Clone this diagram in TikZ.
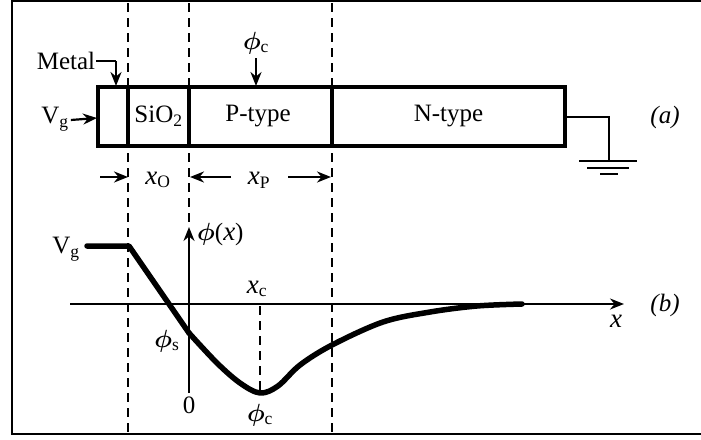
\documentclass[tikz,border=0pt]{standalone}
\usepackage{fontspec}
\setmainfont{Liberation Serif}
\usetikzlibrary{arrows.meta}
\newcommand{\ph}{{\boldmath$\phi$}}
\newcommand{\xv}{{\fontsize{27}{30}\selectfont\itshape x}}
\begin{document}
\begin{tikzpicture}[x=1pt,y=-1pt,
  every node/.style={font=\fontsize{25}{29}\selectfont, inner sep=0pt},
  arr/.style={line width=2.2pt,-{Stealth[length=14pt,width=11pt]}},
  guide/.style={line width=1.4pt,dash pattern=on 9pt off 6pt},
  seg/.style={draw,line width=3.2pt,minimum height=59pt},
  axis/.style={line width=2pt},
  curve/.style={line width=5.5pt,line join=round,line cap=round},
  gnd/.style={line width=2pt}]
\useasboundingbox (0,0) rectangle (701,439);
\draw[line width=1.4pt] (705,1) -- (12,1) -- (12,434) -- (705,434);
% guides
\draw[guide] (128,3) -- (128,433);
\draw[guide] (189,3) -- (189,226);
\draw[guide] (332,3) -- (332,433);
% device segments
\node[seg,minimum width=30pt] (metal) at (113,116.5) {};
\node[seg,minimum width=61pt] (sio) at (158.5,116.5) {SiO\textsubscript{2}};
\node[seg,minimum width=143pt] (ptype) at (260.5,116.5) {\hspace*{-5pt}P-type};
\node[seg,minimum width=233pt] (ntype) at (448.5,116.5) {N-type};
\draw[line width=4.5pt] (98,87) rectangle (565,146);
% labels with arrows
\node (metaltxt) at (66,61) {Metal};
\coordinate (mk) at (116,61);
\draw[line width=2pt] (metaltxt.east) ++(1pt,0) -- (mk);
\draw[arr] (mk) -- (116,86);
\node (vgtop) at (55,119) {V\textsubscript{g}};
\draw[arr] (vgtop.east) ++(2pt,-1pt) -- (97,118);
\node (phictop) at (256,43) {\ph\textsubscript{c}};
\coordinate (phia) at (256,58);
\draw[arr] (phia) -- (256,86);
% ground
\coordinate (g0) at (565,117);
\coordinate (g1) at (609,117);
\coordinate (g2) at (609,161);
\draw[gnd] (g0) -- (g1) -- (g2);
\draw[gnd] (579,161) -- (637,161);
\draw[gnd] (587,168) -- (629,168);
\draw[gnd] (600,174) -- (618,174);
\node (a) at (665,117) {\itshape (a)};
% dimensions
\coordinate (d1) at (100,177);
\draw[arr] (d1) -- (128,177);
\node (xo) at (158,180) {\xv\textsubscript{\upshape O}};
\coordinate (d2) at (231,177);
\draw[arr] (d2) -- (190,177);
\node (xp) at (259,180) {\xv\textsubscript{\upshape P}};
\coordinate (d3) at (288,177);
\draw[arr] (d3) -- (331,177);
% graph
\coordinate (origin) at (189,393);
\draw[axis,-{Stealth[length=14pt,width=11pt]}] (origin) -- (189,227);
\node[anchor=west] (phix) at (197,234) {\ph(\xv)};
\coordinate (xs) at (70,304);
\draw[axis,-{Stealth[length=14pt,width=11pt]}] (xs) -- (624,304);
\node (xl) at (616,321) {\xv};
\node (b) at (665,305) {\itshape (b)};
\node (vgb) at (66,249) {V\textsubscript{g}};
\node (xc) at (257,289) {\xv\textsubscript{\upshape c}};
\node (phis) at (167,341) {\ph\textsubscript{s}};
\node (zero) at (189,405) {0};
\node (phicb) at (260,415) {\ph\textsubscript{c}};
\coordinate (cmin) at (260,393);
\draw[guide] (260,306) -- (cmin);
\draw[curve] (87,246) -- (129,246) -- (189,333);
\draw[curve] plot[smooth,tension=0.55] coordinates {(189,333) (217,363) (240,383) (260,393) (278,386) (300,365) (332,345) (383,322) (430,312) (477,306) (522,304)};
\end{tikzpicture}
\end{document}
